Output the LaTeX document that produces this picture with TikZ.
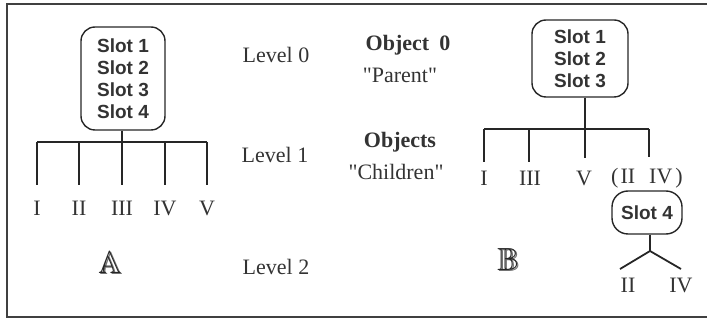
\documentclass[tikz,border=0pt]{standalone}
\usepackage{amssymb}
\usepackage{fontspec}
\setmainfont{Liberation Serif}[Ligatures=TeXOff]
\newfontfamily\slotfont{Liberation Sans}
\begin{document}
\begin{tikzpicture}[x=1pt,y=-1pt,
  ink/.style={draw=black!85},
  slotbox/.style={ink, line width=1.4pt, rounded corners=14pt, inner sep=0pt,
    align=center, font=\slotfont\bfseries\fontsize{19}{22}\selectfont, text=black!80},
  tree/.style={ink, line width=1.8pt},
  num/.style={inner sep=0pt, font=\fontsize{22}{24}\selectfont, text=black!80},
  lbl/.style={inner sep=0pt, font=\fontsize{22}{24}\selectfont, text=black!80},
  head/.style={inner sep=0pt, font=\bfseries\fontsize{22}{24}\selectfont, text=black!80},
  tag/.style={inner sep=0pt, font=\fontsize{32}{34}\selectfont, text=black!85},
  tagshade/.style={tag, text=black!55}]
\useasboundingbox (0,0) rectangle (707,320);

% open frame: top, left and bottom edges
\draw[draw=black!75, line width=2pt] (707,4) -- (7,4) -- (7,317) -- (707,317);

% ---- tree A: one parent holding four slots, five children ----
\node[slotbox, minimum width=84pt, minimum height=103pt] (pa) at (123,78.5)
  {Slot 1\\Slot 2\\Slot 3\\Slot 4};
\foreach \n/\x/\t in {1/37/I,2/79/II,3/122/III,4/165/IV,5/207/V} {
  \coordinate (at\n) at (\x,142);
  \coordinate (ab\n) at (\x,185);
  \node[num] (la\n) at (\x,208) {\t};
}
\draw[tree] (pa.south -| at3) -- (at3);
\draw[tree] (at1) -- (at5);
\foreach \n in {1,...,5} { \draw[tree] (at\n) -- (ab\n); }
% shadowed double-struck tag
\node[tagshade] (tagAs) at (111.2,263.2) {$\mathbb{A}$};
\node[tag] (tagA) at (110,262) {$\mathbb{A}$};

% ---- level captions ----
\node[lbl] (lv0) at (276,55) {Level 0};
\node[lbl] (lv1) at (275,155) {Level 1};
\node[lbl] (lv2) at (276,267) {Level 2};
\node[head] (ob0) at (408,45) {Object\hspace{10pt}0};
\node[lbl] (par) at (400,75) {"Parent"};
\node[head] (obs) at (400,142) {Objects};
\node[lbl] (chi) at (396,172) {"Children"};

% ---- tree B: three slots above, slot 4 split off ----
\node[slotbox, minimum width=96pt, minimum height=77pt] (pb) at (580,58.5)
  {Slot 1\\Slot 2\\Slot 3};
\foreach \n/\x/\e in {1/484/162,2/529/162,3/585/158,4/649/157} {
  \coordinate (bt\n) at (\x,129);
  \coordinate (bb\n) at (\x,\e);
}
\draw[tree] (pb.south -| bt3) -- (bt3);
\draw[tree] (bt1) -- (bt4);
\foreach \n in {1,...,4} { \draw[tree] (bt\n) -- (bb\n); }
\node[num] (lb1) at (484,178) {I};
\node[num] (lb2) at (530,178) {III};
\node[num] (lb3) at (584,178) {V};
\node[num] (lb4) at (647,178) {(\hspace{2pt}II\hspace{14pt}IV\hspace{3pt})};

\node[slotbox, rounded corners=16pt, minimum width=70pt, minimum height=43pt] (pc) at (647,212.5)
  {Slot 4};
\coordinate (jc) at (650,251);
\coordinate (cl) at (620,269);
\coordinate (cr) at (681,269);
\draw[tree] (pc.south -| jc) -- (jc);
\draw[tree] (cl) -- (jc) -- (cr);
\node[num] (lc1) at (628,285) {II};
\node[num] (lc2) at (681,285) {IV};
\node[tagshade] (tagBs) at (509.2,260.2) {$\mathbb{B}$};
\node[tag] (tagB) at (508,259) {$\mathbb{B}$};
\end{tikzpicture}
\end{document}
